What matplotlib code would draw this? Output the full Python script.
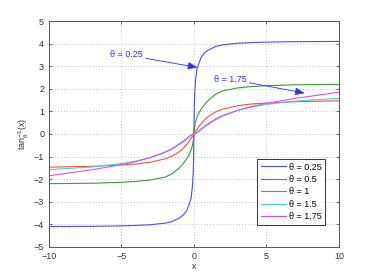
import numpy as np
import matplotlib
matplotlib.use('Agg')
import matplotlib.pyplot as plt

plt.rcParams['font.family'] = ['Liberation Sans', 'DejaVu Sans']
plt.rcParams['mathtext.fontset'] = 'custom'
plt.rcParams['mathtext.rm'] = 'Liberation Sans'
plt.rcParams['mathtext.it'] = 'Liberation Sans'

# x positions (positive half, curves are odd about the origin)
x_pos = [0, 0.02, 0.05, 0.1, 0.2, 0.3, 0.5, 0.75, 1, 1.5, 2, 3, 4, 5, 7, 10]

# values for x >= 0
theta_025 = [0, 1.0, 1.7, 2.3, 2.85, 3.05, 3.4, 3.6, 3.72, 3.88, 3.95, 4.02, 4.05, 4.07, 4.09, 4.1]
theta_05 = [0, 0.12, 0.3, 0.5, 0.72, 0.88, 1.1, 1.32, 1.5, 1.76, 1.91, 2.04, 2.1, 2.14, 2.18, 2.2]
theta_1 = [0, 0.02, 0.05, 0.1, 0.2, 0.29, 0.46, 0.64, 0.78, 0.98, 1.1, 1.25, 1.33, 1.37, 1.43, 1.47]
theta_15 = [0, 0.003, 0.01, 0.025, 0.07, 0.12, 0.24, 0.36, 0.47, 0.68, 0.83, 1.05, 1.2, 1.31, 1.46, 1.58]
theta_175 = [0, 0.002, 0.006, 0.018, 0.05, 0.09, 0.2, 0.32, 0.43, 0.64, 0.8, 1.04, 1.22, 1.36, 1.58, 1.85]

series = [
    ('\u03b8 = 0.25', theta_025, '#4a4aff'),
    ('\u03b8 = 0.5', theta_05, '#3c9a3c'),
    ('\u03b8 = 1', theta_1, '#ff4a4a'),
    ('\u03b8 = 1.5', theta_15, '#45d0d0'),
    ('\u03b8 = 1.75', theta_175, '#e050e0'),
]

fig = plt.figure(figsize=(3.74, 2.78), dpi=100)
ax = fig.add_axes([0.131, 0.112, 0.775, 0.812])

xs = np.array(x_pos)
x_full = np.concatenate([-xs[::-1], xs[1:]])
for label, vals, color in series:
    v = np.array(vals)
    y_full = np.concatenate([-v[::-1], v[1:]])
    ax.plot(x_full, y_full, color=color, lw=0.8, label=label)

ax.set_xlim(-10, 10)
ax.set_ylim(-5, 5)
ax.set_xticks([-10, -5, 0, 5, 10])
ax.set_xticklabels(['\u221210', '\u22125', '0', '5', '10'])
ax.set_yticks(range(-5, 6))
ax.set_yticklabels([str(t).replace('-', '\u2212') for t in range(-5, 6)])
ax.grid(True, color='#b0b0b0', linestyle=(0, (1, 2.5)), lw=0.6)
ax.tick_params(labelsize=6.5, direction='in', length=2.5, width=0.5,
               top=True, right=True, colors='#333333')
ax.tick_params(axis='x', pad=3.5)
ax.tick_params(axis='y', pad=3.5)
for s in ax.spines.values():
    s.set_color('#555555')
    s.set_linewidth(0.7)

ax.set_xlabel('x', fontsize=6.5, labelpad=1, color='#333333')
ax.set_ylabel(r'tan$_{\theta}^{-1}$(x)', fontsize=6.5, labelpad=2, color='#333333')

# annotation arrows with filled heads
arrow = dict(arrowstyle='-|>,head_length=0.9,head_width=0.35', color='#3030ff',
             lw=0.6, shrinkA=0, shrinkB=0)
ax.annotate('\u03b8 = 0.25', xy=(0.25, 2.95), xytext=(-4.65, 3.5),
            fontsize=6.5, color='#3030ff', ha='center', va='center',
            arrowprops=arrow)
ax.annotate('\u03b8 = 1.75', xy=(7.65, 1.81), xytext=(2.5, 2.43),
            fontsize=6.5, color='#3030ff', ha='center', va='center',
            arrowprops=arrow)

leg = ax.legend(loc='lower right', fontsize=6.5, frameon=True, fancybox=False,
                edgecolor='black', borderpad=0.4, labelspacing=0.38,
                handlelength=2.8, handletextpad=0.3, borderaxespad=0,
                bbox_to_anchor=(0.952, 0.097))
leg.get_frame().set_linewidth(0.7)

fig.savefig('out.png', dpi=100)
